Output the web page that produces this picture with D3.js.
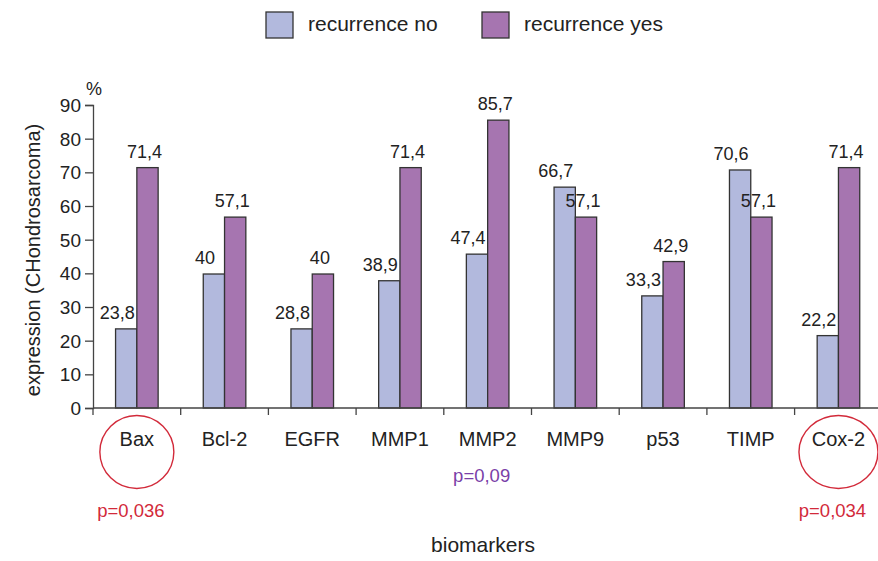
<!DOCTYPE html>
<html>
<head>
<meta charset="utf-8">
<script src="https://cdn.jsdelivr.net/npm/d3@7"></script>
<style>
  body { margin: 0; background: #fff; }
  svg text { font-family: "Liberation Sans", Arial, sans-serif; fill: #222; }
</style>
</head>
<body>
<div id="chart"></div>
<script>
// --- Data ---
const categories = ["Bax", "Bcl-2", "EGFR", "MMP1", "MMP2", "MMP9", "p53", "TIMP", "Cox-2"];
const series = ["recurrence no", "recurrence yes"];
// bar heights as drawn in the picture
const valuesNo  = [23.5, 39.8, 23.5, 37.8, 45.7, 65.6, 33.3, 70.7, 21.5];
const valuesYes = [71.4, 56.7, 39.8, 71.4, 85.5, 56.7, 43.5, 56.7, 71.4];
// printed labels
const labelsNo  = ["23,8", "40", "28,8", "38,9", "47,4", "66,7", "33,3", "70,6", "22,2"];
const labelsYes = ["71,4", "57,1", "40", "71,4", "85,7", "57,1", "42,9", "57,1", "71,4"];
const yTicks = [0, 10, 20, 30, 40, 50, 60, 70, 80, 90];
const pValues = [
  { cat: "Bax", text: "p=0,036", color: "#d22a3a", row: 2, circle: true },
  { cat: "MMP2", text: "p=0,09", color: "#7a3fa8", row: 1, circle: false },
  { cat: "Cox-2", text: "p=0,034", color: "#d22a3a", row: 2, circle: true }
];

// --- Config ---
const width = 878, height = 561;
const colors = { "recurrence no": "#b2b9dd", "recurrence yes": "#a675b0" };
const stroke = "#333";

const svg = d3.select("#chart").append("svg")
  .attr("width", width).attr("height", height);

const x = d3.scaleBand().domain(categories).range([93, 93 + 9 * 87.7]).padding(0);
const xs = d3.scaleBand().domain(series).range([0, x.bandwidth()]).paddingInner(0).paddingOuter(1.06);
const y = d3.scaleLinear().domain([0, 90]).range([408, 105]);

const rows = categories.map((c, i) => ({
  cat: c,
  vals: [
    { s: series[0], v: valuesNo[i], label: labelsNo[i], dx: -9 },
    { s: series[1], v: valuesYes[i], label: labelsYes[i], dx: -3 }
  ]
}));

// --- Bars ---
const groups = svg.append("g").selectAll("g").data(rows).join("g")
  .attr("transform", d => `translate(${x(d.cat)},0)`);

groups.selectAll("rect").data(d => d.vals).join("rect")
  .attr("x", d => xs(d.s))
  .attr("y", d => y(d.v))
  .attr("width", xs.bandwidth())
  .attr("height", d => y(0) - y(d.v))
  .attr("fill", d => colors[d.s])
  .attr("stroke", stroke)
  .attr("stroke-width", 1.3);

groups.selectAll("text").data(d => d.vals).join("text")
  .attr("x", d => xs(d.s) + xs.bandwidth() / 2 + d.dx)
  .attr("y", d => y(d.v) - 10)
  .attr("text-anchor", "middle")
  .style("font-size", "18px")
  .text(d => d.label);

// --- Y axis ---
const yAxis = svg.append("g")
  .attr("transform", "translate(93,0)")
  .call(d3.axisLeft(y).tickValues(yTicks).tickSize(8).tickPadding(4).tickFormat(d3.format("d")));
yAxis.select(".domain").attr("stroke", "#444").attr("stroke-width", 1.3);
yAxis.selectAll(".tick line").attr("stroke", "#444").attr("stroke-width", 1.3);
yAxis.selectAll(".tick text").style("font-size", "19px").style("fill", "#222").attr("dy", "0.35em");

svg.append("text").attr("x", 94).attr("y", 95).attr("text-anchor", "middle")
  .style("font-size", "18px").text("%");

svg.append("text")
  .attr("transform", "translate(40,260) rotate(-90)")
  .attr("text-anchor", "middle")
  .style("font-size", "20px")
  .text("expression (CHondrosarcoma)");

// --- X axis ---
const xAxis = svg.append("g");
xAxis.append("line")
  .attr("x1", 93).attr("x2", width).attr("y1", y(0)).attr("y2", y(0))
  .attr("stroke", "#444").attr("stroke-width", 1.3);
const bounds = categories.map(c => x(c)).concat([x.range()[1]]);
xAxis.selectAll(".bt").data(bounds).join("line")
  .attr("class", "bt")
  .attr("x1", d => d).attr("x2", d => d)
  .attr("y1", y(0)).attr("y2", y(0) + 7)
  .attr("stroke", "#444").attr("stroke-width", 1.3);
xAxis.selectAll(".cl").data(categories).join("text")
  .attr("class", "cl")
  .attr("x", d => x(d) + x.bandwidth() / 2)
  .attr("y", 446)
  .attr("text-anchor", "middle")
  .style("font-size", "20px")
  .text(d => d);

svg.append("text").attr("x", 483).attr("y", 552).attr("text-anchor", "middle")
  .style("font-size", "21px").text("biomarkers");

// --- p-values and circles ---
svg.selectAll(".sig").data(pValues.filter(d => d.circle)).join("ellipse")
  .attr("class", "sig")
  .attr("cx", d => x(d.cat) + x.bandwidth() / 2)
  .attr("cy", 452)
  .attr("rx", d => d.cat === "Bax" ? 37 : 39.5)
  .attr("ry", 36.5)
  .attr("fill", "none")
  .attr("stroke", "#d22a3a")
  .attr("stroke-width", 1.4);

svg.selectAll(".pv").data(pValues).join("text")
  .attr("class", "pv")
  .attr("x", d => x(d.cat) + x.bandwidth() / 2 - 6)
  .attr("y", d => d.row === 1 ? 482 : 517)
  .attr("text-anchor", "middle")
  .style("font-size", "18.5px")
  .style("fill", d => d.color)
  .text(d => d.text);

// --- Legend ---
const legendX = [266, 482];
const legend = svg.append("g").selectAll("g").data(series).join("g")
  .attr("transform", (d, i) => `translate(${legendX[i]},12)`);
legend.append("rect")
  .attr("width", 27).attr("height", 26)
  .attr("fill", d => colors[d]).attr("stroke", stroke).attr("stroke-width", 1.3);
legend.append("text")
  .attr("x", 42).attr("y", 19)
  .style("font-size", "21px")
  .text(d => d);
</script>
</body>
</html>
